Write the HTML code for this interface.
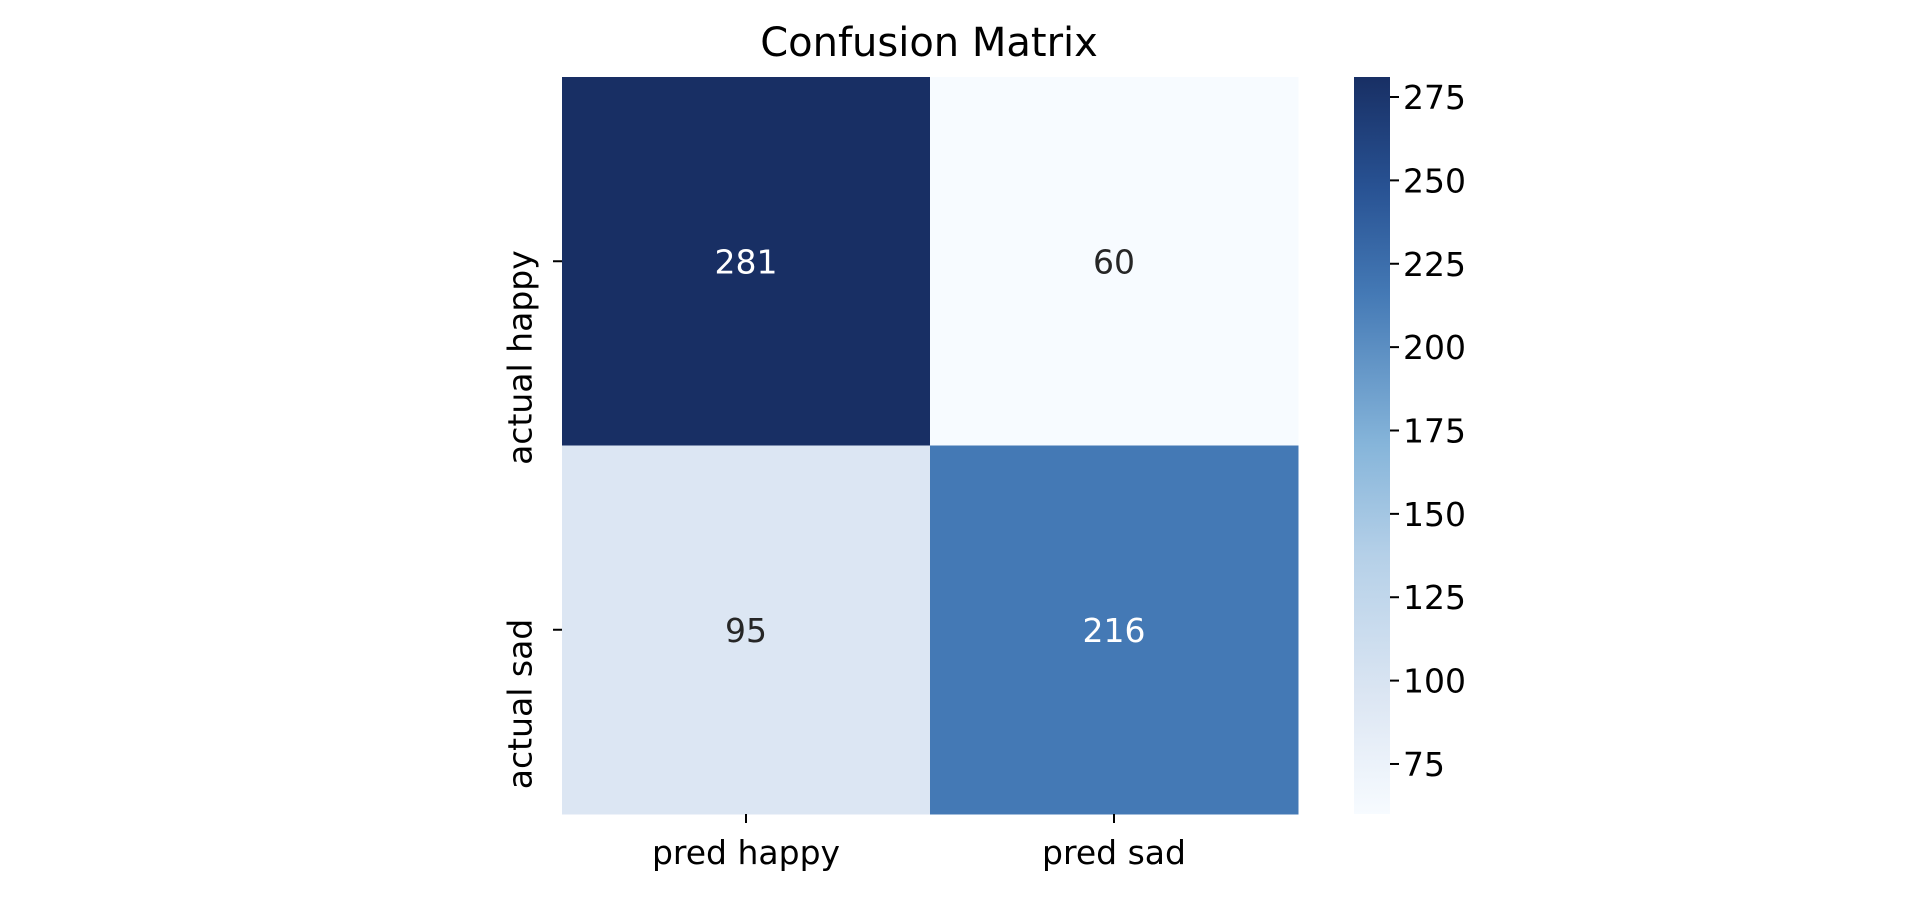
<!DOCTYPE html>
<html><head><meta charset="utf-8"><style>
html,body{margin:0;padding:0;background:#fff;}
svg{display:block;font-family:"DejaVu Sans","Liberation Sans",sans-serif;}
</style></head><body>
<svg id="chart" width="1920" height="923" viewBox="0 0 1920 923">
<defs>
<linearGradient id="cbgrad" x1="0" y1="1" x2="0" y2="0">
<stop offset="0" stop-color="#f7fbff"/>
<stop offset="0.158" stop-color="#dce6f3"/>
<stop offset="0.35" stop-color="#b5d0e8"/>
<stop offset="0.5" stop-color="#86b5da"/>
<stop offset="0.706" stop-color="#4479b5"/>
<stop offset="0.85" stop-color="#285293"/>
<stop offset="1" stop-color="#182f64"/>
</linearGradient>
</defs>
<text x="929" y="56" font-size="40" text-anchor="middle" fill="#000">Confusion Matrix</text>
<g id="cells"></g>
<g id="axes"></g>
<rect x="1354" y="77" width="36" height="737" fill="url(#cbgrad)"/>
<g id="cbticks"></g>
</svg>
<script>
const rowLabels = ["actual happy", "actual sad"];
const colLabels = ["pred happy", "pred sad"];
const values = [[281, 60], [95, 216]];
const cbTicks = [75, 100, 125, 150, 175, 200, 225, 250, 275];

const NS = "http://www.w3.org/2000/svg";
const X0 = 562, X1 = 1298, Y0 = 77, Y1 = 814;
const flat = values.flat();
const vmin = Math.min(...flat), vmax = Math.max(...flat);
const stops = [[0,[247,251,255]],[0.158,[220,230,243]],[0.35,[181,208,232]],[0.5,[134,181,218]],[0.706,[68,121,181]],[0.85,[40,82,147]],[1,[24,47,100]]];
function color(v){
  const t = (v - vmin) / (vmax - vmin);
  for (let i = 1; i < stops.length; i++) {
    if (t <= stops[i][0]) {
      const a = stops[i-1], b = stops[i];
      const f = (t - a[0]) / (b[0] - a[0]);
      const c = a[1].map((x, k) => Math.round(x + (b[1][k] - x) * f));
      return `rgb(${c.join(',')})`;
    }
  }
  return "rgb(24,47,100)";
}
const cw = (X1 - X0) / colLabels.length, ch = (Y1 - Y0) / rowLabels.length;
const xPos = j => X0 + j * cw;
const yPos = i => Y0 + i * ch;
const cbY = v => Y1 - (v - vmin) / (vmax - vmin) * (Y1 - Y0);
function mk(tag, attrs, parent, text){
  const el = document.createElementNS(NS, tag);
  for (const k in attrs) el.setAttribute(k, attrs[k]);
  if (text !== undefined) el.textContent = text;
  parent.appendChild(el);
  return el;
}
const cells = document.getElementById("cells");
const axes = document.getElementById("axes");
const cbt = document.getElementById("cbticks");
values.forEach((row, i) => row.forEach((v, j) => {
  const r = mk("rect", {x: xPos(j), y: yPos(i), width: cw + 0.5, height: ch + 0.5, fill: color(v)}, cells);
  
  
  const t = (v - vmin) / (vmax - vmin);
  const tx = mk("text", {x: xPos(j) + cw/2, y: yPos(i) + ch/2 + 12, "font-size": 33, "text-anchor": "middle", fill: t > 0.5 ? "#ffffff" : "#262626"}, cells, String(v));
  
  
}));
colLabels.forEach((l, j) => {
  const cx = xPos(j) + cw/2;
  const tk = mk("line", {x1: cx, x2: cx, y1: Y1, y2: Y1 + 9, stroke: "#000", "stroke-width": 2}, axes);
  
  
  const tx = mk("text", {x: cx, y: Y1 + 50, "font-size": 33, "text-anchor": "middle", fill: "#000"}, axes, l);
  
  
});
rowLabels.forEach((l, i) => {
  const cy = yPos(i) + ch/2;
  const tk = mk("line", {x1: X0 - 9, x2: X0, y1: cy, y2: cy, stroke: "#000", "stroke-width": 2}, axes);
  
  
  const ay = cy - 11;
  const tx = mk("text", {x: 520, y: ay, "font-size": 33, "text-anchor": "end", "dominant-baseline": "central", fill: "#000", transform: `rotate(-90 520 ${ay})`}, axes, l);
  
  
});
cbTicks.forEach(v => {
  const y = cbY(v);
  const tk = mk("line", {x1: 1390, x2: 1399, y1: y, y2: y, stroke: "#000", "stroke-width": 2}, cbt);
  
  
  const tx = mk("text", {x: 1403, y: y + 12, "font-size": 33, fill: "#000"}, cbt, String(v));
  
  
});
</script>
</body></html>
